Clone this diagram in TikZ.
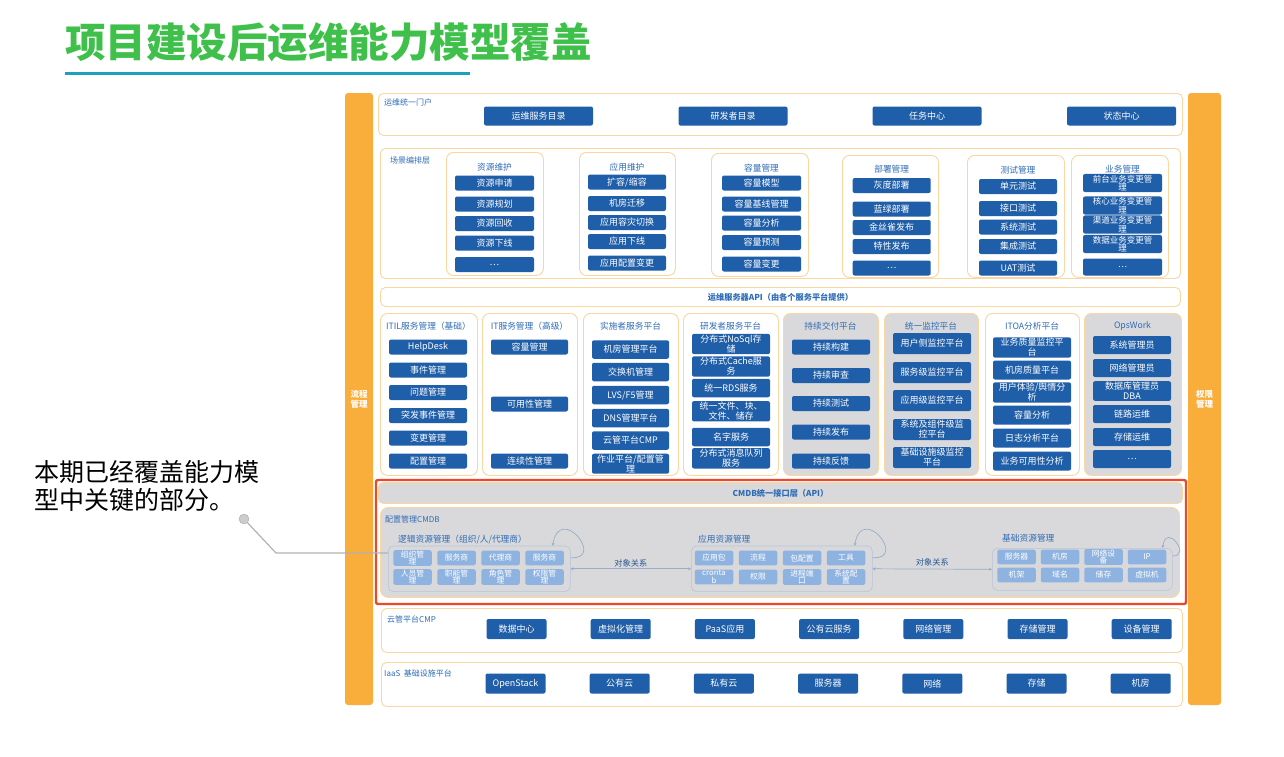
\documentclass[tikz,border=0pt]{standalone}
\usepackage{fontspec}
\setmainfont{Noto Sans CJK SC}
\definecolor{opsblue}{RGB}{31,94,168}
\definecolor{opslabel}{RGB}{46,107,181}
\definecolor{opsorange}{RGB}{249,173,59}
\definecolor{opsedge}{RGB}{250,214,160}
\definecolor{opsgray}{RGB}{217,217,219}
\definecolor{opslight}{RGB}{143,179,224}
\definecolor{opsred}{RGB}{238,72,42}
\definecolor{opsgreen}{RGB}{62,192,74}
\definecolor{opsteal}{RGB}{27,160,190}
\definecolor{opsline}{RGB}{150,172,200}
\usetikzlibrary{arrows.meta,positioning,calc}
\tikzset{
  layer/.style={draw=opsedge, fill=white, rounded corners=5pt, line width=0.9pt, anchor=north west, inner sep=0pt},
  grp/.style={draw=opsedge, fill=white, rounded corners=7pt, line width=0.9pt, anchor=north west, inner sep=0pt},
  ggrp/.style={grp, fill=opsgray},
  cgrp/.style={draw=opsline!70, fill=opsgray, rounded corners=5pt, line width=0.6pt, anchor=north west, inner sep=0pt},
  btn/.style={fill=opsblue, text=white, rounded corners=2pt, inner sep=1pt, align=center, font=\fontsize{9}{10}\selectfont},
  cbtn/.style={fill=opslight, text=white, rounded corners=2pt, inner sep=0.5pt, align=center, minimum width=38.5, minimum height=14.6, font=\fontsize{7.8}{7.6}\selectfont},
  lbl/.style={anchor=west, inner sep=0pt, text=opslabel, font=\fontsize{8}{9}\selectfont},
  gtitle/.style={inner sep=0pt, text=opslabel, font=\fontsize{8.7}{10}\selectfont},
  side/.style={fill=opsorange, rounded corners=3pt, text=white, align=center, font=\fontsize{8.5}{10}\selectfont\bfseries},
  rel/.style={opsline, line width=0.7pt, {Stealth[length=3pt,width=3pt]}-{Stealth[length=3pt,width=3pt]}},
  loopy/.style={opsline, line width=0.7pt, -{Stealth[length=3pt,width=3pt]}}
}
\begin{document}
\begin{tikzpicture}[x=1pt,y=-1pt]
  \useasboundingbox (0,0) rectangle (1284,756);
  % Title
  \node[anchor=west, inner sep=0pt, text=opsgreen, font=\fontsize{40.5}{48}\selectfont\bfseries] (title) at (65,42) {项目建设后运维能力模型覆盖};
  \draw[opsteal, line width=3pt] (65,73) -- (470,73);
  % Note on the left
  \node[anchor=north west, align=left, inner sep=0pt, font=\fontsize{25}{28}\selectfont] (note) at (34,460) {本期已经覆盖能力模\\型中关键的部分。};
  % Side bars
  \node[side, minimum width=28, minimum height=612] (lside) at (359,399) {流程\\管理};
  \node[side, minimum width=33, minimum height=612] (rside) at (1204.5,399) {权限\\管理};
  % Portal
  \node[layer, minimum width=804, minimum height=42] (portal) at (378,93) {};
  \node[lbl] (portalL) at (384,102) {运维统一门户};
  \foreach \x/\t [count=\i] in {538.5/运维服务目录,733/研发者目录,927/任务中心,1121.5/状态中心}
    \node[btn, minimum width=109, minimum height=19] (pb\i) at (\x,116) {\t};
  % Scene layer
  \node[layer, minimum width=800, minimum height=130] (scene) at (380,148) {};
  \node[lbl] (sceneL) at (390,160) {场景编排层};
  \node[grp, minimum width=97, minimum height=123] (g1) at (446,152) {};
  \node[gtitle] (g1t) at (494.5,167) {资源维护};
  \foreach \y/\t [count=\i] in {183/资源申请,204/资源规划,223.5/资源回收,243/资源下线,264.5/{\ldots}}
    \node[btn, minimum width=79, minimum height=15] (g1-\i) at (494.5,\y) {\t};
  \node[grp, minimum width=96, minimum height=123] (g2) at (579,152) {};
  \node[gtitle] (g2t) at (627,167) {应用维护};
  \foreach \y/\t [count=\i] in {182/{扩容/缩容},203.5/机房迁移,222.5/应用容灾切换,241.5/应用下线,263/应用配置变更}
    \node[btn, minimum width=78, minimum height=15] (g2-\i) at (627,\y) {\t};
  \node[grp, minimum width=97, minimum height=123] (g3) at (711,153) {};
  \node[gtitle] (g3t) at (761.5,168) {容量管理};
  \foreach \y/\t [count=\i] in {183/容量模型,204/容量基线管理,223/容量分析,242.5/容量预测,264/容量变更}
    \node[btn, minimum width=79, minimum height=15] (g3-\i) at (761.5,\y) {\t};
  \node[grp, minimum width=96, minimum height=122] (g4) at (842,155) {};
  \node[gtitle] (g4t) at (891.7,169) {部署管理};
  \foreach \y/\t [count=\i] in {185.5/灰度部署,209/蓝绿部署,227.5/金丝雀发布,246.5/特性发布,268/{\ldots}}
    \node[btn, minimum width=78, minimum height=15] (g4-\i) at (891.7,\y) {\t};
  \node[grp, minimum width=97, minimum height=122] (g5) at (967,155) {};
  \node[gtitle] (g5t) at (1018,170) {测试管理};
  \foreach \y/\t [count=\i] in {186.5/单元测试,208.5/接口测试,227/系统测试,246.5/集成测试,268/UAT测试}
    \node[btn, minimum width=78, minimum height=15] (g5-\i) at (1018,\y) {\t};
  \node[grp, minimum width=97, minimum height=122] (g6) at (1071,155) {};
  \node[gtitle] (g6t) at (1122.5,169) {业务管理};
  \foreach \y/\t [count=\i] in {183/{前台业务变更管\\理},205.5/{核心业务变更管\\理},224.5/{渠道业务变更管\\理},244/{数据业务变更管\\理},267/{\ldots}}
    \node[btn, minimum width=79, minimum height=17, font=\fontsize{8.5}{8.5}\selectfont] (g6-\i) at (1122.5,\y) {\t};
  % API
  \node[layer, minimum width=800, minimum height=19, text=opslabel, font=\fontsize{8.2}{9}\selectfont\bfseries] (api) at (380,287) {运维服务器API（由各个服务平台提供）};
  % Platforms
  \node[grp, minimum width=97, minimum height=162] (p1) at (380,313) {};
  \node[gtitle] (p1t) at (428.5,326) {ITIL服务管理（基础）};
  \foreach \y/\t [count=\i] in {347/HelpDesk,370/事件管理,392.5/问题管理,415.5/突发事件管理,438/变更管理,461/配置管理}
    \node[btn, minimum width=78, minimum height=15] (p1-\i) at (428,\y) {\t};
  \node[grp, minimum width=95, minimum height=162] (p2) at (482,313) {};
  \node[gtitle] (p2t) at (529.5,326) {IT服务管理（高级）};
  \foreach \y/\t [count=\i] in {347/容量管理,404/可用性管理,461/连续性管理}
    \node[btn, minimum width=77, minimum height=15] (p2-\i) at (529.5,\y) {\t};
  \node[grp, minimum width=95, minimum height=162] (p3) at (583,313) {};
  \node[gtitle] (p3t) at (630.5,326) {实施者服务平台};
  \foreach \y/\t [count=\i] in {349.5/机房管理平台,372/交换机管理,395/{LVS/F5管理},418/DNS管理平台,440.5/云管平台CMP,463.7/{作业平台/配置管\\理}}
    \node[btn, minimum width=77, minimum height=18.5] (p3-\i) at (630.5,\y) {\t};
  \node[grp, minimum width=95, minimum height=162] (p4) at (683,313) {};
  \node[gtitle] (p4t) at (730.5,326) {研发者服务平台};
  \foreach \y/\t [count=\i] in {344/{分布式NoSql存\\储},366.5/{分布式Cache服\\务},388/统一RDS服务,411.3/{统一文件、块、\\文件、储存},437/名字服务,458.3/{分布式消息队列\\服务}}
    \node[btn, minimum width=78, minimum height=18.5] (p4-\i) at (731,\y) {\t};
  \node[ggrp, minimum width=95, minimum height=162] (p5) at (783,313) {};
  \node[gtitle] (p5t) at (830.5,326) {持续交付平台};
  \foreach \y/\t [count=\i] in {347/持续构建,375.5/持续审查,403.5/持续测试,432/持续发布,461/持续反馈}
    \node[btn, minimum width=78, minimum height=15] (p5-\i) at (831,\y) {\t};
  \node[ggrp, minimum width=94, minimum height=162] (p6) at (884,313) {};
  \node[gtitle] (p6t) at (931,326) {统一监控平台};
  \foreach \y/\t [count=\i] in {343.5/用户侧监控平台,372.5/服务级监控平台,400.5/应用级监控平台,429.5/{系统及组件级监\\控平台},457.5/{基础设施级监控\\平台}}
    \node[btn, minimum width=78, minimum height=21] (p6-\i) at (932,\y) {\t};
  \node[grp, minimum width=94, minimum height=162] (p7) at (985,313) {};
  \node[gtitle] (p7t) at (1032,326) {ITOA分析平台};
  \foreach \y/\t [count=\i] in {347.5/{业务质量监控平\\台},370/机房质量平台,392.5/{用户体验/舆情分\\析},415/容量分析,438/日志分析平台,461/业务可用性分析}
    \node[btn, minimum width=78, minimum height=19] (p7-\i) at (1032,\y) {\t};
  \node[ggrp, minimum width=97, minimum height=162] (p8) at (1084,313) {};
  \node[gtitle] (p8t) at (1132.5,326) {OpsWork};
  \foreach \y/\t [count=\i] in {345/系统管理员,368/网络管理员,391/{数据库管理员\\DBA},414/链路运维,437/存储运维,459/{\ldots}}
    \node[btn, minimum width=78, minimum height=18] (p8-\i) at (1132,\y) {\t};
  % CMDB
  \draw[opsred, line width=2.4pt, rounded corners=2pt] (376,480) rectangle (1186,604);
  \node[layer, fill=opsgray, minimum width=804, minimum height=21, text=opslabel, font=\fontsize{8.2}{9}\selectfont\bfseries] (cmdbapi) at (378,482) {CMDB统一接口层（API）};
  \node[layer, fill=opsgray, rounded corners=8pt, minimum width=799, minimum height=90] (cmdb) at (380,507) {};
  \node[lbl] (cmdbL) at (385,519.5) {配置管理CMDB};
  \node[cgrp, minimum width=182, minimum height=45.6] (lg) at (388,545.7) {};
  \node[lbl, font=\fontsize{8.7}{10}\selectfont] (lgL) at (398,539.5) {逻辑资源管理（组织/人/代理商）};
  \foreach \t [count=\i from 0] in {组织管\\理,服务商,代理商,服务商,人员管\\理,职能管\\理,角色管\\理,权限管\\理}{
    \pgfmathsetmacro\cx{412.5+44*mod(\i,4)}
    \pgfmathsetmacro\cy{558+19*int(\i/4)}
    \node[cbtn] (l\i) at (\cx,\cy) {\t};
  }
  \node[cgrp, minimum width=181, minimum height=45.6] (ag) at (691,545.7) {};
  \node[lbl, font=\fontsize{8.7}{10}\selectfont] (agL) at (698,539.5) {应用资源管理};
  \foreach \t [count=\i from 0] in {应用包,流程,包配置,工具,cronta\\b,权限,进程端\\口,系统配\\置}{
    \pgfmathsetmacro\cx{714+44*mod(\i,4)}
    \pgfmathsetmacro\cy{558+19*int(\i/4)}
    \node[cbtn] (a\i) at (\cx,\cy) {\t};
  }
  \node[cgrp, minimum width=180, minimum height=42] (bg) at (992,548) {};
  \node[lbl, font=\fontsize{8.7}{10}\selectfont] (bgL) at (1002,538) {基础资源管理};
  \foreach \t [count=\i from 0] in {服务器,机房,网络设\\备,IP,机架,域名,储存,虚拟机}{
    \pgfmathsetmacro\cx{1016.5+43.5*mod(\i,4)}
    \pgfmathsetmacro\cy{557+18*int(\i/4)}
    \node[cbtn] (b\i) at (\cx,\cy) {\t};
  }
  \draw[rel] (lg.east) -- node[above=1pt, inner sep=0pt, text=opslabel!80!black, font=\fontsize{8.2}{9}\selectfont] (rel1) {对象关系} (ag.west);
  \draw[rel] (ag.east) -- node[above=3pt, inner sep=0pt, text=opslabel!80!black, font=\fontsize{8.2}{9}\selectfont] (rel2) {对象关系} (bg.west);
  \draw[loopy] ([yshift=-12pt]lg.north east) .. controls (606,560) and (560,503) .. ([xshift=-18pt]lg.north east);
  \draw[loopy] ([yshift=-12pt]ag.north east) .. controls (908,560) and (862,503) .. ([xshift=-18pt]ag.north east);
  \draw[loopy] ([yshift=-8pt]bg.north east) .. controls (1192,556) and (1166,522) .. ([xshift=-10pt]bg.north east);
  % Callout
  \node[circle, fill=gray!40, draw=gray!65, minimum size=10, inner sep=0pt] (dot) at (244,519) {};
  \coordinate (bend) at (276,553);
  \draw[gray!60, line width=1.2pt] (dot) -- (bend) -- (bend -| lg.west);
  % Cloud platform
  \node[layer, minimum width=801, minimum height=44] (cloud) at (381,608) {};
  \node[lbl] (cloudL) at (387,619) {云管平台CMP};
  \foreach \t [count=\i from 0] in {数据中心,虚拟化管理,PaaS应用,公有云服务,网络管理,存储管理,设备管理}
    \node[btn, minimum width=60, minimum height=20] (c\i) at ({516.5+104.2*\i},629) {\t};
  % IaaS
  \node[layer, minimum width=801, minimum height=44] (iaas) at (381,662) {};
  \node[lbl] (iaasL) at (384,673) {IaaS\ \ 基础设施平台};
  \foreach \t [count=\i from 0] in {OpenStack,公有云,私有云,服务器,网络,存储,机房}
    \node[btn, minimum width=60, minimum height=20] (i\i) at ({515.5+104.2*\i},683.5) {\t};
\end{tikzpicture}
\end{document}
